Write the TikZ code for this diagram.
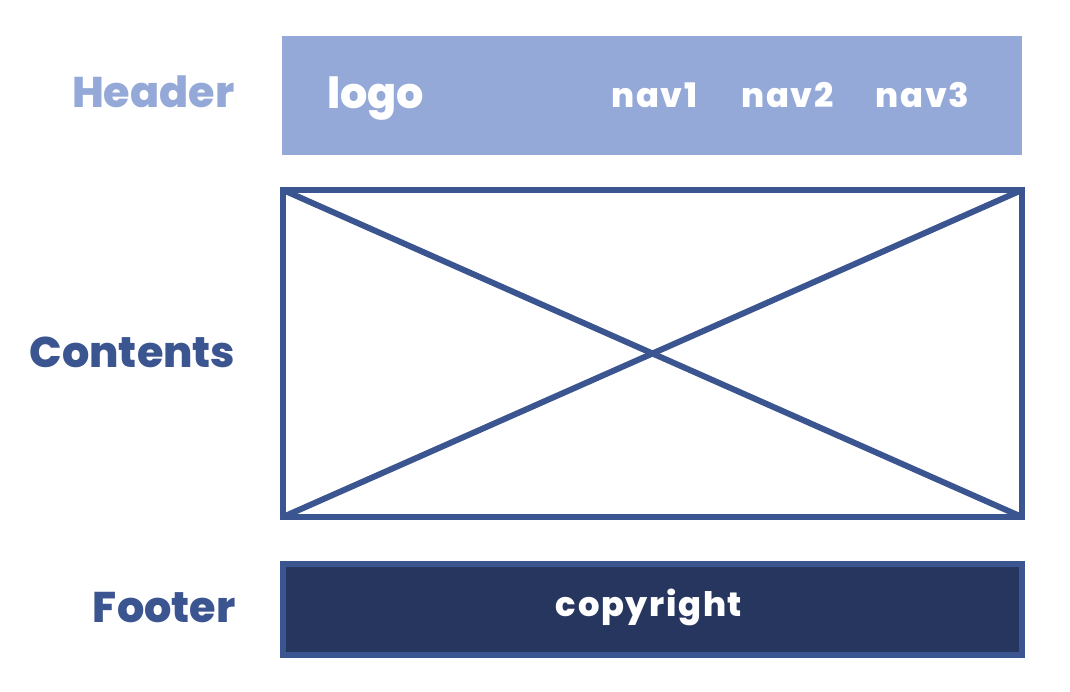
\documentclass[tikz,border=0pt]{standalone}
\usepackage{fontspec}
\setmainfont{Poppins}[BoldFont={Poppins ExtraBold}]
\definecolor{headblue}{HTML}{95A9D8}
\definecolor{midblue}{HTML}{3B5591}
\definecolor{darkblue}{HTML}{26365F}
\tikzset{
    label/.style={font=\fontsize{12.2}{14}\selectfont\bfseries, inner sep=0pt, anchor=base east},
    item/.style={font=\fontsize{9.6}{11}\selectfont\bfseries\addfontfeatures{LetterSpace=5}, text=white, inner sep=0pt, anchor=base},
    block/.style={rectangle, inner sep=0pt, line width=1.7pt}
}
\begin{document}
\begin{tikzpicture}[x=0.01cm, y=-0.01cm]
    \useasboundingbox (0,0) rectangle (1070,692);
    % boxes
    \node[block, fill=headblue, minimum width=7.40cm, minimum height=1.19cm] (header) at (652,95.5) {};
    \node[block, draw=midblue, minimum width=7.39cm, minimum height=3.27cm] (contents) at (652.5,353.5) {};
    \node[block, draw=midblue, fill=darkblue, minimum width=7.39cm, minimum height=0.91cm] (footer) at (652.5,609.5) {};
    \coordinate (tl) at ([shift={(3,3)}]contents.north west);
    \coordinate (br) at ([shift={(-3,-3)}]contents.south east);
    \coordinate (bl) at ([shift={(3,-3)}]contents.south west);
    \coordinate (tr) at ([shift={(-3,3)}]contents.north east);
    \draw[midblue, line width=1.7pt] (tl) -- (br);
    \draw[midblue, line width=1.7pt] (bl) -- (tr);
    % labels
    \node[label, text=headblue] (headerlabel) at (235,108) {Header};
    \node[label, text=midblue] (contentslabel) at (236,368) {Contents};
    \node[label, text=midblue] (footerlabel) at (236,623) {Footer};
    % texts
    \node[item, font=\fontsize{12.2}{14}\selectfont\bfseries] (logo) at (375.5,109) {logo};
    \node[item] (nav1) at (654.5,108) {nav1};
    \node[item] (nav2) at (787.5,108) {nav2};
    \node[item] (nav3) at (922.5,108) {nav3};
    \node[item] (copyright) at (649,617) {copyright};
\end{tikzpicture}
\end{document}
